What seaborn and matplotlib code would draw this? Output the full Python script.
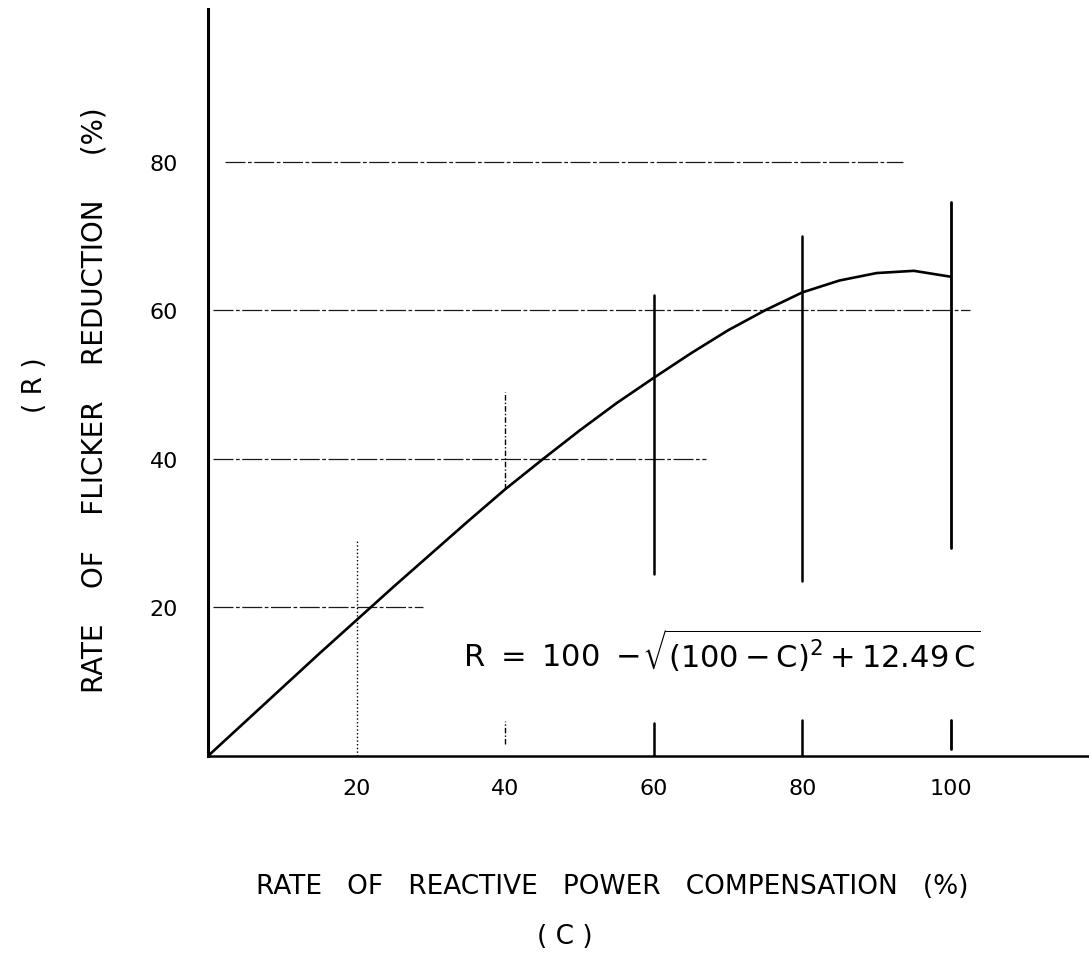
import matplotlib
matplotlib.use("Agg")
import matplotlib.pyplot as plt
import seaborn as sns
import pandas as pd

# ---- data ----
comp_pct = [0, 5, 10, 15, 20, 25, 30, 35, 40, 45, 50, 55, 60, 65, 70, 75, 80, 85, 90, 95, 100]
flicker_red = [0, 4.6, 9.2, 13.8, 18.3, 22.8, 27.2, 31.6, 35.9, 39.9, 43.8, 47.5, 50.9, 54.2,
               57.3, 60.0, 62.4, 64.0, 65.0, 65.3, 64.5]

x_ticks = [20, 40, 60, 80, 100]
x_tick_labels = ["20", "40", "60", "80", "100"]
y_ticks = [20, 40, 60, 80]
y_tick_labels = ["20", "40", "60", "80"]

# guide lines drawn by hand on the original
h_levels = [80, 60, 40, 20]
h_start = [2.3, 0.7, 0.7, 0.7]
h_end = [93.5, 102.5, 67, 29]

v_levels = [20, 40, 60, 80, 100]
v_top = [29, 49, 62, 70, 74.6]
v_bottom = [0, 36, 24.5, 23.5, 28]
v_low_top = [0, 4.7, 4.5, 4.8, 4.8]
v_low_bottom = [0, 1.6, 0, 0, 1]
v_styles = [":", (0, (4, 1.5, 1, 1.5)), "-", "-", "-"]
v_widths = [1.0, 1.0, 1.8, 1.8, 2.0]

formula = r"$\mathregular{R\ =\ 100\ -\!\sqrt{(100-C)^{2}+12.49\,C}}$"

sns.set_theme(style="white")
plt.rcParams["font.family"] = ["DejaVu Sans"]

fig = plt.figure(figsize=(10.89, 9.70), dpi=100)
ax = fig.add_axes([208 / 1089, 1 - 757 / 970, 881 / 1089, 747 / 970])

df = pd.DataFrame({"C": comp_pct, "R": flicker_red})
sns.lineplot(data=df, x="C", y="R", ax=ax, color="black", linewidth=1.9, sort=False)

for y, xs, xe in zip(h_levels, h_start, h_end):
    ax.plot([xs, xe], [y, y], color="black", linewidth=0.9,
            linestyle=(0, (16, 2, 3, 2)), alpha=0.9)

for x, t, b, lt, lb, ls, lw in zip(v_levels, v_top, v_bottom, v_low_top, v_low_bottom, v_styles, v_widths):
    ax.plot([x, x], [b, t], color="black", linewidth=lw, linestyle=ls)
    if lt > lb:
        ax.plot([x, x], [lb, lt], color="black", linewidth=lw, linestyle=ls)

ax.text(34.3, 12.0, formula, fontsize=22, ha="left", va="baseline", color="black")

ax.set_xlim(0, 881 / 7.43)
ax.set_ylim(0, 747 / 7.43)
ax.set_xticks(x_ticks)
ax.set_xticklabels(x_tick_labels)
ax.set_yticks(y_ticks)
ax.set_yticklabels(y_tick_labels)
ax.tick_params(axis="both", length=3, direction="inout", color="black",
               labelcolor="black", labelsize=16)
ax.tick_params(axis="x", pad=14)
ax.tick_params(axis="y", pad=20)

for s in ["top", "right"]:
    ax.spines[s].set_visible(False)
ax.spines["left"].set_color("black")
ax.spines["left"].set_linewidth(2.2)
ax.spines["bottom"].set_color("black")
ax.spines["bottom"].set_linewidth(1.8)

ax.set_xlabel("")
ax.set_ylabel("")

fig.text(612 / 1089, 1 - 887 / 970, "RATE   OF   REACTIVE   POWER   COMPENSATION   (%)",
         fontsize=19, ha="center", va="center", color="black")
fig.text(565 / 1089, 1 - 937 / 970, "( C )", fontsize=19, ha="center", va="center", color="black")
fig.text(95 / 1089, 1 - 400 / 970, "RATE    OF    FLICKER    REDUCTION     (%)",
         fontsize=20, ha="center", va="center", rotation=90, color="black")
fig.text(35 / 1089, 1 - 385 / 970, "( R )", fontsize=19, ha="center", va="center", rotation=90, color="black")

fig.savefig("out.png", dpi=100, facecolor="white")
